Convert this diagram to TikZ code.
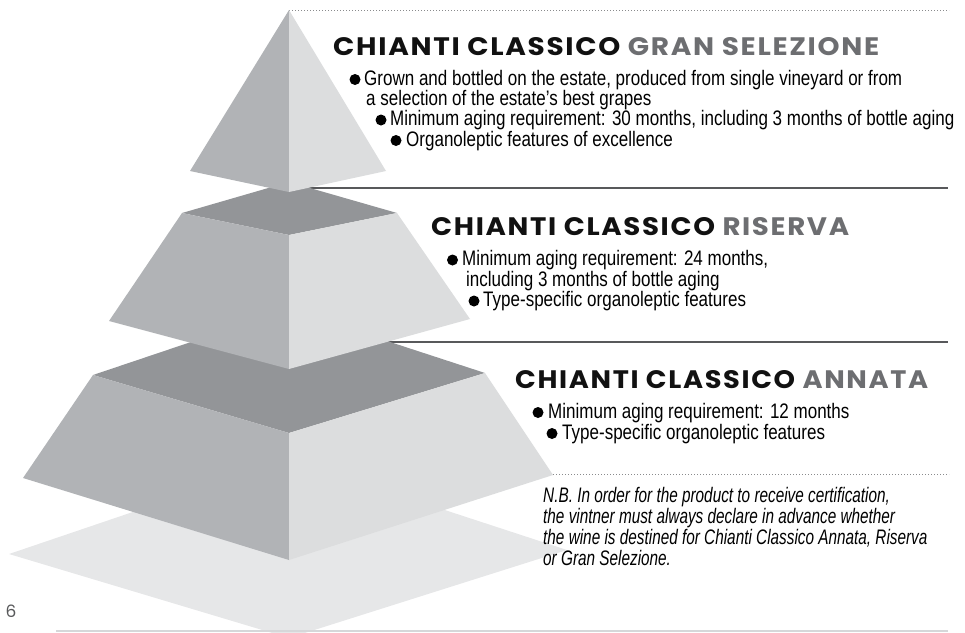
\documentclass[tikz,border=0pt]{standalone}
\usepackage{fontspec}
\usepackage{graphicx}
\newfontfamily\bodyfont[FakeStretch=0.81]{Liberation Sans}
\newfontfamily\nbfont[FakeStretch=0.73]{Liberation Sans}
\newfontfamily\titlefont[LetterSpace=6]{Poppins}
\definecolor{topface}{HTML}{939598}
\definecolor{leftface}{HTML}{B1B3B6}
\definecolor{rightface}{HTML}{DCDDDE}
\definecolor{shadowc}{HTML}{E6E7E8}
\definecolor{rulegray}{HTML}{58595B}
\definecolor{dotgray}{HTML}{8A8B8D}
\definecolor{baseline}{HTML}{D6D7D9}
\definecolor{ttlblack}{HTML}{111111}
\definecolor{ttlgray}{HTML}{6D6E71}
\definecolor{pagegray}{HTML}{58595B}
\newcommand\cctitle[2]{\resizebox{#1pt}{18pt}{\color{ttlblack}CHIANTI CLASSICO \color{ttlgray}#2}}
\begin{document}
\begin{tikzpicture}[x=1pt,y=-1pt,
  body/.style={font=\bodyfont\fontsize{21}{21}\selectfont, anchor=base west, inner sep=0pt, text=black},
  nbtext/.style={body, font=\nbfont\itshape\fontsize{21}{21}\selectfont},
  ttl/.style={font=\titlefont\bfseries\fontsize{26}{26}\selectfont, anchor=base west, inner sep=0pt},
  bul/.style={fill=black},
  solidrule/.style={draw=rulegray, line width=1.1pt},
  dotrule/.style={draw=dotgray, line width=1pt, dash pattern=on 1pt off 2pt},
  tface/.style={fill=topface},
  lface/.style={fill=leftface},
  rface/.style={fill=rightface}]
\useasboundingbox (0,0) rectangle (965,632);
% shadow
\fill[shadowc] (9,554) -- (289,459) -- (567,550) -- (289,638) -- cycle;
\draw[draw=baseline, line width=1.5pt] (56,631) -- (948,631);
% rules
\draw[dotrule] (289,10) -- (949,10);
\draw[solidrule] (289,188) -- (948,188);
\draw[solidrule] (289,342) -- (948,342);
\draw[dotrule] (289,474) -- (949,474);
% bottom tier
\fill[tface] (93,375) -- (289,309) -- (485,373) -- (289,433) -- cycle;
\fill[lface] (93,375) -- (289,433) -- (289,560) -- (23,478) -- cycle;
\fill[rface] (289,433) -- (485,373) -- (553,475) -- (289,560) -- cycle;
% middle tier
\fill[tface] (182,213) -- (289,182) -- (397,213) -- (289,235) -- cycle;
\fill[lface] (182,213) -- (289,235) -- (289,369) -- (109,321) -- cycle;
\fill[rface] (289,235) -- (397,213) -- (470,319) -- (289,369) -- cycle;
% top tier
\fill[lface] (289,10) -- (289,192) -- (190,171) -- cycle;
\fill[rface] (289,10) -- (386,171) -- (289,192) -- cycle;
% titles
\node[ttl] (t1) at (333,55) {\cctitle{546}{GRAN SELEZIONE}};
\node[ttl] (t2) at (431,235) {\cctitle{418}{RISERVA}};
\node[ttl] (t3) at (515,388) {\cctitle{413}{ANNATA}};
% Gran Selezione bullets
\fill[bul] (355,79.5) circle (5.5);
\node[body] (g1) at (364,85) {Grown and bottled on the estate, produced from single vineyard or from};
\node[body] (g2) at (366,105) {a selection of the estate’s best grapes};
\fill[bul] (381,120) circle (5.5);
\node[body] (g3) at (390,125.5) {Minimum aging requirement: 30 months, including 3 months of bottle aging};
\fill[bul] (396,140.5) circle (5.5);
\node[body] (g4) at (406,146) {Organoleptic features of excellence};
% Riserva bullets
\fill[bul] (452.5,260) circle (5.5);
\node[body] (r1) at (462,265.5) {Minimum aging requirement: 24 months,};
\node[body] (r2) at (466,286) {including 3 months of bottle aging};
\fill[bul] (474,301) circle (5.5);
\node[body] (r3) at (483,306.5) {Type-specific organoleptic features};
% Annata bullets
\fill[bul] (538,412.5) circle (5.5);
\node[body] (a1) at (548,418) {Minimum aging requirement: 12 months};
\fill[bul] (552,433.5) circle (5.5);
\node[body] (a2) at (562,439) {Type-specific organoleptic features};
% N.B.
\node[nbtext] (n1) at (543,502.5) {N.B. In order for the product to receive certification,};
\node[nbtext] (n2) at (543,523) {the vintner must always declare in advance whether};
\node[nbtext] (n3) at (543,544) {the wine is destined for Chianti Classico Annata, Riserva};
\node[nbtext] (n4) at (543,565) {or Gran Selezione.};
% page number
\node[font=\titlefont\fontsize{17}{17}\selectfont, text=pagegray, anchor=base west, inner sep=0pt] (pg) at (5.5,617) {6};
\end{tikzpicture}
\end{document}
